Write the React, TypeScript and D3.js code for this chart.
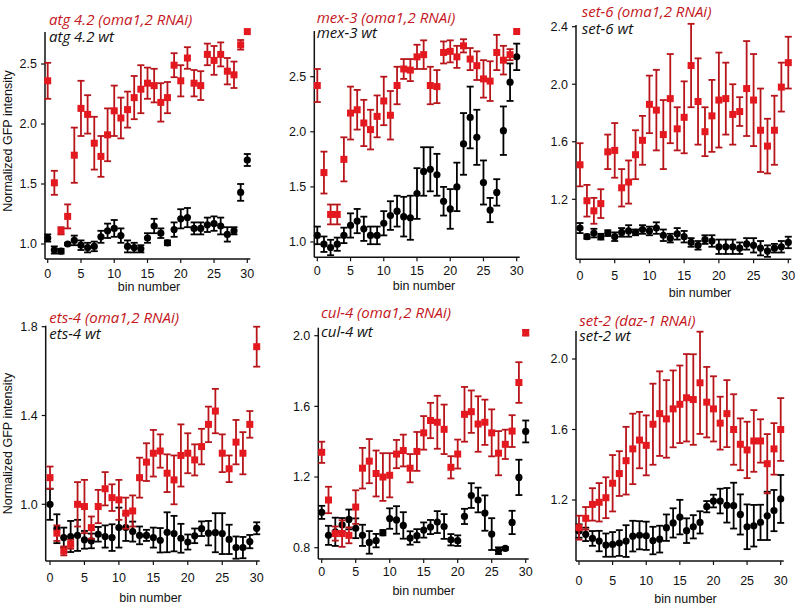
import React from "react";
import * as d3 from "d3";

// bins 0..30 along the x axis
const bins = d3.range(0, 31);
const binTicks = [0, 5, 10, 15, 20, 25, 30];

// atg 4.2
const atgRnai = [2.36, 1.51, 1.11, 1.23, 1.74, 2.13, 2.08, 1.84, 1.73, 1.91, 2.11, 2.05, 2.12, 2.22, 2.29, 2.34, 2.32, 2.18, 2.22, 2.49, 2.36, 2.55, 2.34, 2.32, 2.58, 2.53, 2.58, 2.44, 2.41, 2.66, 2.77];
const atgRnaiErr = [0.15, 0.1, 0.03, 0.1, 0.23, 0.23, 0.16, 0.22, 0.17, 0.22, 0.21, 0.17, 0.15, 0.18, 0.2, 0.13, 0.14, 0.16, 0.13, 0.1, 0.13, 0.09, 0.11, 0.12, 0.09, 0.12, 0.1, 0.11, 0.11, 0.04, 0];
const atgWt = [1.05, 0.95, 0.94, 1.0, 1.03, 0.99, 0.97, 0.98, 1.06, 1.11, 1.13, 1.07, 0.98, 0.97, 0.96, 1.05, 1.15, 1.09, 1.01, 1.12, 1.21, 1.22, 1.13, 1.13, 1.16, 1.17, 1.15, 1.08, 1.11, 1.43, 1.7];
const atgWtErr = [0.03, 0.03, 0.02, 0.01, 0.04, 0.04, 0.04, 0.04, 0.05, 0.06, 0.07, 0.06, 0.05, 0.04, 0.03, 0.04, 0.06, 0.04, 0.02, 0.06, 0.08, 0.08, 0.05, 0.05, 0.06, 0.06, 0.07, 0.06, 0.03, 0.07, 0.05];

// mex-3
const mexRnai = [2.42, 1.63, 1.25, 1.25, 1.75, 2.17, 2.2, 2.08, 2.02, 2.14, 2.28, 2.15, 2.42, 2.57, 2.56, 2.68, 2.7, 2.42, 2.41, 2.72, 2.73, 2.68, 2.78, 2.66, 2.6, 2.48, 2.46, 2.72, 2.65, 2.7, 2.91];
const mexRnaiErr = [0.15, 0.19, 0.09, 0.09, 0.2, 0.24, 0.18, 0.21, 0.18, 0.19, 0.22, 0.22, 0.17, 0.09, 0.1, 0.11, 0.13, 0.17, 0.15, 0.1, 0.1, 0.1, 0.06, 0.1, 0.13, 0.17, 0.18, 0.16, 0.13, 0.05, 0];
const mexWt = [1.06, 0.98, 0.95, 0.98, 1.06, 1.15, 1.19, 1.12, 1.06, 1.06, 1.17, 1.24, 1.28, 1.23, 1.22, 1.44, 1.64, 1.66, 1.61, 1.37, 1.3, 1.5, 1.89, 2.13, 1.95, 1.54, 1.29, 1.45, 2.01, 2.45, 2.68];
const mexWtErr = [0.08, 0.07, 0.07, 0.06, 0.07, 0.11, 0.11, 0.11, 0.08, 0.08, 0.11, 0.13, 0.14, 0.18, 0.2, 0.23, 0.22, 0.2, 0.19, 0.13, 0.18, 0.22, 0.28, 0.28, 0.25, 0.2, 0.11, 0.12, 0.22, 0.17, 0.12];

// set-6
const set6Rnai = [1.44, 1.19, 1.12, 1.17, 1.53, 1.54, 1.28, 1.32, 1.51, 1.61, 1.86, 1.82, 1.65, 1.9, 1.69, 1.77, 2.13, 1.88, 1.67, 1.78, 1.89, 1.9, 1.79, 1.81, 1.97, 1.89, 1.68, 1.57, 1.68, 1.98, 2.15];
const set6RnaiErr = [0.15, 0.11, 0.09, 0.1, 0.12, 0.19, 0.13, 0.15, 0.17, 0.17, 0.2, 0.28, 0.24, 0.31, 0.15, 0.25, 0.29, 0.3, 0.17, 0.25, 0.33, 0.25, 0.21, 0.1, 0.33, 0.32, 0.29, 0.19, 0.24, 0.17, 0.18];
const set6Wt = [1.0, 0.94, 0.965, 0.94, 0.965, 0.94, 0.97, 0.98, 0.97, 0.99, 0.98, 1.0, 0.95, 0.93, 0.96, 0.94, 0.9, 0.88, 0.92, 0.91, 0.87, 0.87, 0.87, 0.86, 0.89, 0.88, 0.86, 0.84, 0.86, 0.87, 0.9];
const set6WtErr = [0.035, 0.015, 0.03, 0.02, 0.02, 0.03, 0.03, 0.04, 0.02, 0.03, 0.03, 0.04, 0.04, 0.03, 0.04, 0.04, 0.03, 0.03, 0.03, 0.04, 0.05, 0.05, 0.05, 0.04, 0.04, 0.05, 0.05, 0.04, 0.03, 0.04, 0.04];

// ets-4
const etsRnai = [1.12, 0.87, 0.79, 0.82, 1.0, 0.99, 0.895, 0.99, 1.07, 1.03, 1.02, 0.96, 0.97, 1.12, 1.19, 1.23, 1.24, 1.14, 1.11, 1.22, 1.23, 1.2, 1.26, 1.36, 1.42, 1.23, 1.16, 1.28, 1.23, 1.36, 1.71];
const etsRnaiErr = [0.05, 0.035, 0.02, 0.02, 0.1, 0.12, 0.05, 0.075, 0.075, 0.06, 0.09, 0.07, 0.07, 0.09, 0.085, 0.105, 0.075, 0.085, 0.11, 0.14, 0.09, 0.07, 0.08, 0.08, 0.1, 0.085, 0.06, 0.1, 0.095, 0.06, 0.09];
const etsWt = [1.0, 0.89, 0.85, 0.855, 0.86, 0.84, 0.835, 0.865, 0.855, 0.85, 0.895, 0.895, 0.877, 0.86, 0.86, 0.85, 0.838, 0.874, 0.868, 0.847, 0.83, 0.858, 0.89, 0.87, 0.872, 0.868, 0.842, 0.805, 0.805, 0.832, 0.892];
const etsWtErr = [0.07, 0.065, 0.045, 0.07, 0.07, 0.04, 0.033, 0.033, 0.05, 0.06, 0.09, 0.06, 0.045, 0.04, 0.025, 0.045, 0.055, 0.09, 0.08, 0.065, 0.034, 0.033, 0.033, 0.055, 0.088, 0.092, 0.066, 0.05, 0.048, 0.03, 0.027];

// cul-4
const culRnai = [1.34, 1.07, 0.88, 0.88, 0.87, 1.03, 1.25, 1.29, 1.22, 1.2, 1.21, 1.33, 1.35, 1.25, 1.345, 1.45, 1.52, 1.51, 1.47, 1.255, 1.33, 1.555, 1.57, 1.5, 1.51, 1.45, 1.335, 1.385, 1.46, 1.735, 2.017];
const culRnaiErr = [0.06, 0.075, 0.04, 0.075, 0.045, 0.095, 0.115, 0.125, 0.13, 0.135, 0.125, 0.08, 0.09, 0.08, 0.11, 0.095, 0.1, 0.15, 0.14, 0.063, 0.082, 0.155, 0.12, 0.157, 0.128, 0.133, 0.125, 0.083, 0.09, 0.115, 0.016];
const culWt = [1.0, 0.87, 0.89, 0.93, 0.96, 0.91, 0.87, 0.83, 0.84, 0.885, 0.965, 0.957, 0.926, 0.855, 0.868, 0.9, 0.917, 0.945, 0.92, 0.845, 0.84, 0.977, 1.095, 1.07, 0.996, 0.877, 0.783, 0.796, 0.943, 1.198, 1.458];
const culWtErr = [0.037, 0.054, 0.08, 0.038, 0.056, 0.056, 0.06, 0.064, 0.038, 0.015, 0.058, 0.078, 0.075, 0.038, 0.037, 0.043, 0.04, 0.062, 0.07, 0.032, 0.03, 0.043, 0.07, 0.07, 0.1, 0.09, 0.019, 0.008, 0.066, 0.1, 0.062];

// set-2
const set2Rnai = [1.043, 1.096, 1.175, 1.187, 1.213, 1.295, 1.35, 1.423, 1.49, 1.54, 1.51, 1.63, 1.69, 1.66, 1.717, 1.743, 1.78, 1.77, 1.865, 1.755, 1.717, 1.636, 1.69, 1.6, 1.516, 1.484, 1.535, 1.535, 1.406, 1.49, 1.6];
const set2RnaiErr = [0.068, 0.064, 0.092, 0.109, 0.116, 0.16, 0.127, 0.192, 0.2, 0.16, 0.17, 0.23, 0.24, 0.22, 0.218, 0.22, 0.248, 0.257, 0.29, 0.2, 0.185, 0.15, 0.19, 0.2, 0.147, 0.16, 0.175, 0.123, 0.168, 0.146, 0.178];
const set2Wt = [1.024, 1.005, 0.982, 0.967, 0.944, 0.948, 0.956, 0.967, 0.995, 1.0, 0.997, 0.97, 0.978, 1.043, 1.07, 1.103, 1.026, 1.048, 1.073, 1.162, 1.194, 1.194, 1.17, 1.168, 1.118, 1.048, 1.054, 1.073, 1.11, 1.14, 1.206];
const set2WtErr = [0.038, 0.038, 0.042, 0.058, 0.066, 0.07, 0.073, 0.09, 0.087, 0.08, 0.08, 0.078, 0.076, 0.075, 0.083, 0.098, 0.07, 0.066, 0.063, 0.032, 0.036, 0.07, 0.098, 0.13, 0.114, 0.127, 0.118, 0.1, 0.137, 0.117, 0.136];

const ticksA = [1.0, 1.5, 2.0, 2.5];
const ticksSet6 = [1.2, 1.6, 2.0, 2.4];
const ticksEts = [1.0, 1.4, 1.8];
const ticksCul = [0.8, 1.2, 1.6, 2.0];
const ticksSet2 = [1.2, 1.6, 2.0];

const RED = "#e3191f";
const RED_BAR = "#b8151b";
const FONT = "'Liberation Sans', Arial, sans-serif";
const TITLE_FONT = "'Open Sans', 'Liberation Sans', sans-serif";

interface PanelProps {
  red: number[];
  redErr: number[];
  black: number[];
  blackErr: number[];
  redLabel: string;
  blackLabel: string;
  ticks: number[];
  axisX: number;
  xr: [number, number];
  yRef: [number, number, number, number];
  top: number;
  bottom: number;
  titleX: number;
  redY: number;
  blackY: number;
  tickLabelY: number;
  binLabelX: number;
  binLabelY: number;
  yLabelY?: number;
}

const ErrorSeries: React.FC<{
  vals: number[];
  errs: number[];
  x: d3.ScaleLinear<number, number>;
  y: d3.ScaleLinear<number, number>;
  color: string;
  barColor: string;
  square: boolean;
}> = ({ vals, errs, x, y, color, barColor, square }) => (
  <g>
    {bins.map((b) => {
      const v = vals[b];
      const e = errs[b];
      const cx = x(b);
      const y1 = y(v - e);
      const y2 = y(v + e);
      return (
        <g key={b}>
          {e > 0 && (
            <g stroke={barColor} strokeWidth={1.8}>
              <line x1={cx} x2={cx} y1={y1} y2={y2} />
              <line x1={cx - 3.5} x2={cx + 3.5} y1={y1} y2={y1} />
              <line x1={cx - 3.5} x2={cx + 3.5} y1={y2} y2={y2} />
            </g>
          )}
          {square ? (
            <rect x={cx - 3.5} y={y(v) - 3.5} width={7} height={7} fill={color} />
          ) : (
            <circle cx={cx} cy={y(v)} r={3.6} fill={color} />
          )}
        </g>
      );
    })}
  </g>
);

const Panel: React.FC<PanelProps> = (p) => {
  const x = d3.scaleLinear().domain([0, 30]).range(p.xr);
  const y = d3.scaleLinear().domain([p.yRef[0], p.yRef[2]]).range([p.yRef[1], p.yRef[3]]);
  const fmt = d3.format(".1f");
  return (
    <g>
      <line x1={p.axisX} x2={p.axisX} y1={p.top} y2={p.bottom} stroke="#111" strokeWidth={1.5} />
      <line x1={p.axisX} x2={p.xr[1] + 3} y1={p.bottom} y2={p.bottom} stroke="#111" strokeWidth={1.5} />
      {p.ticks.map((t) => (
        <g key={t}>
          <line x1={p.axisX - 4} x2={p.axisX} y1={y(t)} y2={y(t)} stroke="#111" strokeWidth={1.2} />
          <text x={p.axisX - 8} y={y(t)} dy="0.35em" textAnchor="end" fontSize={12.5} fontFamily={FONT} fill="#111">
            {fmt(t)}
          </text>
        </g>
      ))}
      {binTicks.map((t) => (
        <g key={t}>
          <line x1={x(t)} x2={x(t)} y1={p.bottom} y2={p.bottom + 4} stroke="#111" strokeWidth={1.2} />
          <text x={x(t)} y={p.tickLabelY} dy="0.35em" textAnchor="middle" fontSize={12.5} fontFamily={FONT} fill="#111">
            {t}
          </text>
        </g>
      ))}
      <text x={p.binLabelX} y={p.binLabelY} dy="0.35em" textAnchor="middle" fontSize={12.5} fontFamily={FONT} fill="#111">
        bin number
      </text>
      {p.yLabelY !== undefined && (
        <text
          transform={`translate(12,${p.yLabelY}) rotate(-90)`}
          textAnchor="middle"
          fontSize={12.5}
          fontFamily={FONT}
          fill="#111"
        >
          Normalized GFP intensity
        </text>
      )}
      <ErrorSeries vals={p.black} errs={p.blackErr} x={x} y={y} color="#000" barColor="#000" square={false} />
      <ErrorSeries vals={p.red} errs={p.redErr} x={x} y={y} color={RED} barColor={RED_BAR} square={true} />
      <text x={p.titleX} y={p.redY} fontSize={15} fontStyle="italic" fontFamily={TITLE_FONT} fill="#c4161c">
        {p.redLabel}
      </text>
      <text x={p.titleX} y={p.blackY} fontSize={15} fontStyle="italic" fontFamily={TITLE_FONT} fill="#111">
        {p.blackLabel}
      </text>
    </g>
  );
};

export default function App() {
  return (
    <svg width={800} height={610} style={{ position: "absolute", left: 0, top: 0, background: "#fff" }}>
      <Panel
        red={atgRnai} redErr={atgRnaiErr} black={atgWt} blackErr={atgWtErr}
        redLabel="atg 4.2 (oma1,2 RNAi)" blackLabel="atg 4.2 wt" ticks={ticksA}
        axisX={45} xr={[47.7, 247.3]} yRef={[1.0, 244, 2.5, 64]} top={32} bottom={259}
        titleX={49} redY={25} blackY={42} tickLabelY={274} binLabelX={149} binLabelY={287} yLabelY={141}
      />
      <Panel
        red={mexRnai} redErr={mexRnaiErr} black={mexWt} blackErr={mexWtErr}
        redLabel="mex-3 (oma1,2 RNAi)" blackLabel="mex-3 wt" ticks={ticksA}
        axisX={314.3} xr={[317.3, 516.7]} yRef={[1.0, 242, 2.5, 76.7]} top={31} bottom={257.3}
        titleX={316.7} redY={22.5} blackY={38} tickLabelY={270.7} binLabelX={424} binLabelY={286}
      />
      <Panel
        red={set6Rnai} redErr={set6RnaiErr} black={set6Wt} blackErr={set6WtErr}
        redLabel="set-6 (oma1,2 RNAi)" blackLabel="set-6 wt" ticks={ticksSet6}
        axisX={576} xr={[580, 788.3]} yRef={[1.2, 199.3, 2.4, 26.7]} top={25} bottom={259.3}
        titleX={581.7} redY={16.7} blackY={34} tickLabelY={276} binLabelX={700} binLabelY={293}
      />
      <Panel
        red={etsRnai} redErr={etsRnaiErr} black={etsWt} blackErr={etsWtErr}
        redLabel="ets-4 (oma1,2 RNAi)" blackLabel="ets-4 wt" ticks={ticksEts}
        axisX={45.7} xr={[50, 256.7]} yRef={[1.0, 504.3, 1.8, 326.7]} top={325.7} bottom={561}
        titleX={49.3} redY={323.3} blackY={339} tickLabelY={577.7} binLabelX={150.5} binLabelY={598}
        yLabelY={443.5}
      />
      <Panel
        red={culRnai} redErr={culRnaiErr} black={culWt} blackErr={culWtErr}
        redLabel="cul-4 (oma1,2 RNAi)" blackLabel="cul-4 wt" ticks={ticksCul}
        axisX={318.3} xr={[321.7, 525.7]} yRef={[0.8, 547.7, 2.0, 335.7]} top={327.7} bottom={559}
        titleX={321} redY={318.3} blackY={336.7} tickLabelY={571.7} binLabelX={423.7} binLabelY={591}
      />
      <Panel
        red={set2Rnai} redErr={set2RnaiErr} black={set2Wt} blackErr={set2WtErr}
        redLabel="set-2 (daz-1 RNAi)" blackLabel="set-2 wt" ticks={ticksSet2}
        axisX={576} xr={[579, 780.7]} yRef={[1.2, 500, 2.0, 359]} top={331} bottom={561}
        titleX={579.3} redY={325.7} blackY={340.5} tickLabelY={581} binLabelX={685.5} binLabelY={599}
      />
    </svg>
  );
}
